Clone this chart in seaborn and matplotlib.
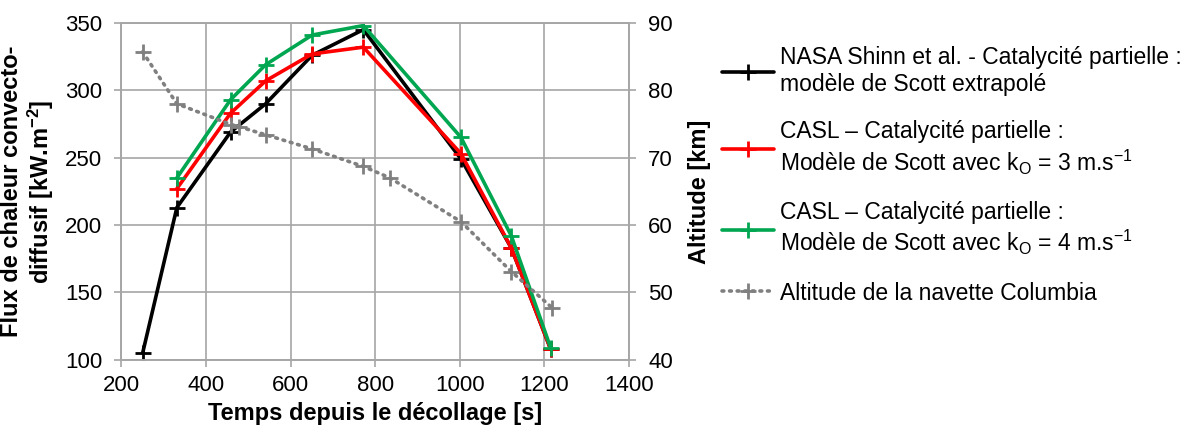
import matplotlib
matplotlib.use("Agg")
import matplotlib.pyplot as plt
import seaborn as sns
import pandas as pd

sns.set_theme(style="white")
plt.rcParams['font.family'] = ['Liberation Sans', 'DejaVu Sans']
plt.rcParams['mathtext.default'] = 'regular'
plt.rcParams['text.color'] = 'black'
plt.rcParams['axes.labelcolor'] = 'black'

# Data
t_nasa = [250, 331, 458, 541, 651, 772, 1003, 1122, 1215]
q_nasa = [105, 213, 269, 290, 326, 345, 249, 183, 108]

t_casl = [331, 458, 541, 651, 772, 1003, 1122, 1215]
q_casl3 = [227, 283, 307, 327, 332, 253, 183, 108]
q_casl4 = [235, 293, 319, 341, 348, 265, 192, 109]

t_alt = [250, 331, 460, 478, 541, 651, 772, 835, 1003, 1122, 1219]
alt = [85.7, 78.0, 74.9, 74.6, 73.4, 71.3, 68.7, 67.0, 60.5, 53.1, 47.7]

labels = [
    "NASA Shinn et al. - Catalycité partielle :\nmodèle de Scott extrapolé",
    "CASL – Catalycité partielle :\nModèle de Scott avec k$_O$ = 3 m.s$^{-1}$",
    "CASL – Catalycité partielle :\nModèle de Scott avec k$_O$ = 4 m.s$^{-1}$",
    "Altitude de la navette Columbia",
]

fig, ax = plt.subplots(figsize=(11.91, 4.32), dpi=100)
fig.subplots_adjust(left=0.102, right=0.528, top=0.947, bottom=0.167)
ax2 = ax.twinx()

lw = 2.6
ms = 12
mew = 2
sns.lineplot(x=t_nasa, y=q_nasa, ax=ax, color='black', lw=lw, marker='+',
             markersize=ms, mew=mew, mec='black', label=labels[0], legend=False)
sns.lineplot(x=t_casl, y=q_casl3, ax=ax, color='#ff0000', lw=lw, marker='+',
             markersize=ms, mew=mew, mec='#ff0000', label=labels[1], legend=False)
sns.lineplot(x=t_casl, y=q_casl4, ax=ax, color='#00a650', lw=lw, marker='+',
             markersize=ms, mew=mew, mec='#00a650', label=labels[2], legend=False)
sns.lineplot(x=t_alt, y=alt, ax=ax2, color='#808080', lw=lw, ls=(0, (0.5, 1.6)),
             marker='+', markersize=ms, mew=mew, mec='#808080', label=labels[3], legend=False)
for l in ax2.get_lines():
    l.set_dash_capstyle('round')

ax.set_xlim(200, 1400)
ax.set_ylim(100, 350)
ax2.set_ylim(40, 90)
ax.set_xticks(range(200, 1401, 200))
ax.set_yticks(range(100, 351, 50))
ax2.set_yticks(range(40, 91, 10))

gridc = '#a6a6a6'
ax.grid(True, color=gridc, lw=1.2)
for a in (ax, ax2):
    for s in a.spines.values():
        s.set_color(gridc)
        s.set_linewidth(1.2)
    a.tick_params(axis='both', which='both', direction='out', length=5, color=gridc,
                  width=1.2, labelsize=16, labelcolor='black', pad=9)
ax.tick_params(axis='x', pad=6)
ax2.tick_params(axis='y', left=False, right=True)
ax.tick_params(axis='y', left=True)
ax.tick_params(axis='x', bottom=True)

ax.set_xlabel("Temps depuis le décollage [s]", fontsize=17, fontweight='bold', labelpad=4)
ax.set_ylabel("Flux de chaleur convecto-\ndiffusif [kW.m$^{-2}$]", fontsize=17,
              fontweight='bold', labelpad=6, linespacing=1.15)
ax2.set_ylabel("Altitude [km]", fontsize=17, fontweight='bold', labelpad=11)

handles = ax.get_lines()[:3] + ax2.get_lines()[:1]
leg = fig.legend(handles, labels, loc='center left', bbox_to_anchor=(0.606, 0.594),
                 frameon=False, fontsize=16.5, handlelength=2.3, handletextpad=0.26,
                 labelspacing=1.05, numpoints=1, borderpad=0, borderaxespad=0)

fig.savefig("out.png", dpi=100)
